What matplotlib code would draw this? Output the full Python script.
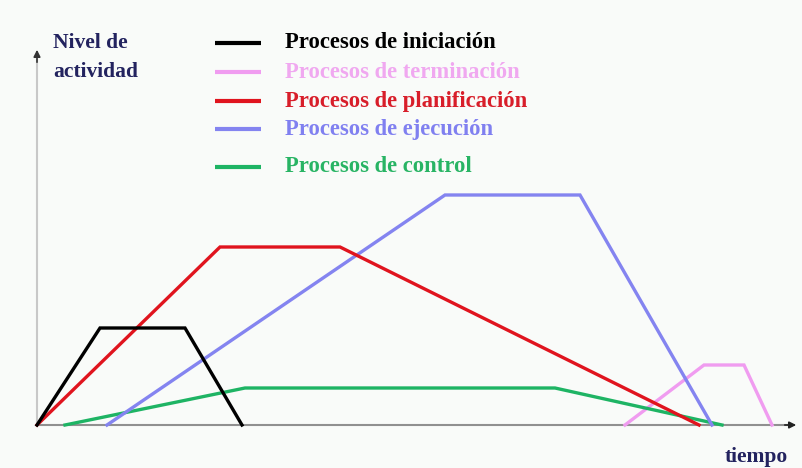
import matplotlib
matplotlib.use("Agg")
import matplotlib.pyplot as plt

# Series (x = time units, y = activity level)
series_names = ["Procesos de iniciación", "Procesos de terminación", "Procesos de planificación",
                "Procesos de ejecución", "Procesos de control"]
colors = ["#000000", "#f09cf0", "#e0141e", "#8484f0", "#1eb464"]

ini_x = [0, 63, 148, 205]
ini_y = [0, 97, 97, 0]
ter_x = [588, 667, 707, 735]
ter_y = [0, 60, 60, 0]
pla_x = [0, 183, 303, 662]
pla_y = [0, 178, 178, 0]
eje_x = [70, 408, 543, 675]
eje_y = [0, 230, 230, 0]
con_x = [28, 208, 518, 685]
con_y = [0, 37, 37, 0]

xs = [ini_x, ter_x, pla_x, eje_x, con_x]
ys = [ini_y, ter_y, pla_y, eje_y, con_y]
# draw order (back to front)
order = [1, 4, 3, 2, 0]

W, H = 803, 468
fig = plt.figure(figsize=(W / 100, H / 100), dpi=100)
bg = "#f9fbf9"
fig.patch.set_facecolor(bg)
ax = fig.add_axes([0, 0, 1, 1])
ax.set_facecolor(bg)
ax.set_xlim(-37, W - 37)
ax.set_ylim(-(H - 425), 425)
ax.axis("off")

# axes
ax.plot([0, 0], [0, 365], color="#c8c8c8", lw=1.5, zorder=1)
ax.annotate("", xy=(0, 378), xytext=(0, 360),
            arrowprops=dict(arrowstyle="-|>", color="#333333", lw=1.2, mutation_scale=10))
ax.plot([0, 750], [0, 0], color="#909090", lw=1.5, zorder=1)
ax.annotate("", xy=(762, 0), xytext=(745, 0),
            arrowprops=dict(arrowstyle="-|>", color="#222222", lw=1.2, mutation_scale=10))

for i in order:
    ax.plot(xs[i], ys[i], color=colors[i], lw=2.4, solid_joinstyle="miter", zorder=3)

font = dict(family="Liberation Serif", weight="bold")
navy = "#23235f"
ax.text(16, 382, "Nivel de", color=navy, fontsize=15.5, va="center", ha="left", **font)
ax.text(16, 353, "actividad", color=navy, fontsize=15.5, va="center", ha="left", **font)
ax.text(688, -32, "tiempo", color=navy, fontsize=15.5, va="center", ha="left", **font)

# legend
leg_y = [382, 353, 324, 296, 258]
text_colors = ["#000000", "#f0a8f0", "#d81e2a", "#8080f0", "#28b464"]
for i, yy in enumerate(leg_y):
    ax.plot([178, 224], [yy, yy], color=colors[i], lw=3, solid_capstyle="butt")
    ax.text(248, yy, series_names[i], color=text_colors[i], fontsize=16.3,
            va="center", ha="left", **font)

fig.savefig("out.png", dpi=100, facecolor=bg)
